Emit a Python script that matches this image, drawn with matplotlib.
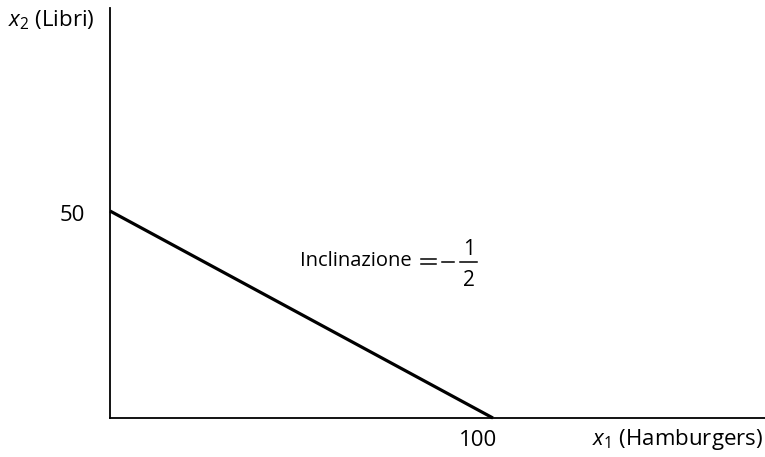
import matplotlib.pyplot as plt

# Vincolo di bilancio: intercette sugli assi
x1_values = [0, 100]
x2_values = [50, 0]
x_label = r"$x_1$ (Hamburgers)"
y_label = r"$x_2$ (Libri)"
slope_word = "Inclinazione"
slope_num = "1"
slope_den = "2"

plt.rcParams['font.family'] = ['Open Sans', 'DejaVu Sans']
plt.rcParams['mathtext.fontset'] = 'custom'
plt.rcParams['mathtext.rm'] = 'Open Sans'
plt.rcParams['mathtext.it'] = 'Open Sans:italic'

fig = plt.figure(figsize=(7.65, 4.57), dpi=100)
ax = fig.add_axes([0.1438, 0.0853, 0.856, 0.897])

ax.plot(x1_values, x2_values, color='black', linewidth=2.3, clip_on=False,
        solid_capstyle='butt')

ax.set_xlim(0, 171)
ax.set_ylim(0, 99)

for side in ['top', 'right']:
    ax.spines[side].set_visible(False)
for side in ['left', 'bottom']:
    ax.spines[side].set_linewidth(1.3)
ax.set_xticks([])
ax.set_yticks([])

# Valori delle intercette
ax.annotate(str(x1_values[-1]), xy=(x1_values[-1], 0), xytext=(-11, -16),
            textcoords='offset points', ha='center', va='center', fontsize=16,
            annotation_clip=False)
ax.annotate(str(x2_values[0]), xy=(0, x2_values[0]), xytext=(-27, -3),
            textcoords='offset points', ha='center', va='center', fontsize=16,
            annotation_clip=False)

# Etichette degli assi
fig.text(8 / 765, 1 - 20 / 457, y_label, fontsize=16, ha='left', va='center')
fig.text(763 / 765, 1 - 440 / 457, x_label, fontsize=16, ha='right', va='center')

# Pendenza
def px(x, y):
    return x / 765, 1 - y / 457

fig.text(*px(300, 261), slope_word, fontsize=14.5, ha='left', va='center')
eq_y = 1 - 261.5 / 457
fig.add_artist(plt.Line2D([421 / 765, 436 / 765], [eq_y + 2.5 / 457] * 2,
                          color='black', linewidth=1.1))
fig.add_artist(plt.Line2D([421 / 765, 436 / 765], [eq_y - 2.5 / 457] * 2,
                          color='black', linewidth=1.1))
fig.add_artist(plt.Line2D([442 / 765, 454 / 765], [1 - 261.5 / 457] * 2,
                          color='black', linewidth=1.1))
fig.add_artist(plt.Line2D([460 / 765, 477 / 765], [1 - 262 / 457] * 2,
                          color='black', linewidth=1.1))
fig.text(*px(469, 250), slope_num, fontsize=15, ha='center', va='center')
fig.text(*px(469, 281), slope_den, fontsize=15, ha='center', va='center')

fig.savefig('out.png', dpi=100)
